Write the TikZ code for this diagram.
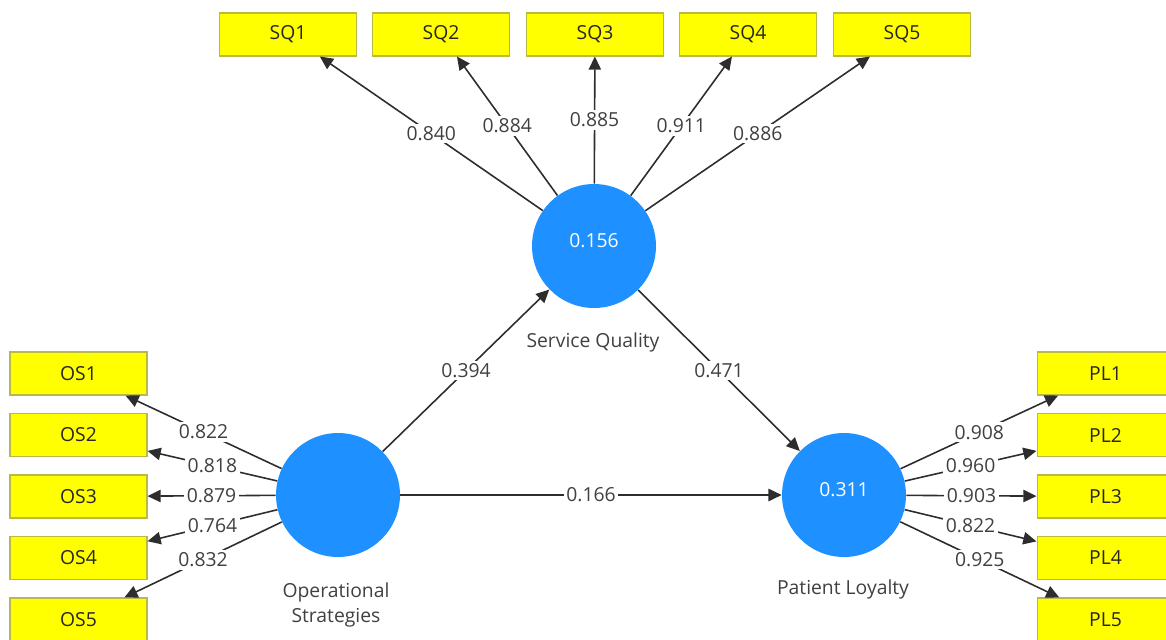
\documentclass[tikz,border=0pt]{standalone}
\usepackage{fontspec}
\setmainfont{Open Sans}
\usetikzlibrary{arrows.meta,positioning}
\definecolor{lvblue}{RGB}{30,144,255}
\definecolor{mvyellow}{RGB}{255,255,0}
\definecolor{mvedge}{RGB}{185,185,70}
\definecolor{pathgray}{RGB}{45,45,45}

\begin{document}
\begin{tikzpicture}[x=0.02cm,y=-0.02cm,font=\fontsize{11}{14.5}\selectfont,
  lv/.style={circle,fill=lvblue,minimum size=2.48cm,inner sep=0pt},
  mv/.style={rectangle,fill=mvyellow,draw=mvedge,line width=0.6pt,minimum width=2.74cm,minimum height=0.86cm,inner sep=0pt,text=black!85},
  arr/.style={draw=pathgray,line width=0.9pt,-{Triangle[length=7.5pt,width=7pt]}},
  val/.style={fill=white,inner sep=1.5pt,text=black!75},
  lvname/.style={text=black!75,align=center}]
  \useasboundingbox (0,0) rectangle (1166,639);
  % latent variables
  \node[lv,label={[text=white,yshift=3pt]center:0.156}] (SQ) at (594,246) {};
  \node[lv] (OS) at (338,495) {};
  \node[lv,label={[text=white,yshift=3pt]center:0.311}] (PL) at (844,495) {};
  \node[lvname] at (593,342) {Service Quality};
  \node[lvname] at (336,605) {Operational\\Strategies};
  \node[lvname] at (843,589) {Patient Loyalty};
  % inner model
  \draw[arr] (OS) -- node[val] {0.394} (SQ);
  \draw[arr] (SQ) -- node[val] {0.471} (PL);
  \draw[arr] (OS) -- node[val] {0.166} (PL);
  % indicators
  \foreach \i/\px/\v in {1/288/0.840,2/441/0.884,3/595/0.885,4/748/0.911,5/902/0.886}{
    \node[mv] (SQ\i) at (\px,34.5) {SQ\i};
    \draw[arr] (SQ) -- node[val] {\v} (SQ\i);
  }
  \foreach \i/\py/\v in {1/373.5/0.822,2/435/0.818,3/496.5/0.879,4/558/0.764,5/619.5/0.832}{
    \node[mv] (OS\i) at (78.5,\py) {OS\i};
    \draw[arr] (OS) -- node[val] {\v} (OS\i);
  }
  \foreach \i/\py/\v in {1/373.5/0.908,2/435/0.960,3/496.5/0.903,4/558/0.822,5/619.5/0.925}{
    \node[mv] (PL\i) at (1105.5,\py) {PL\i};
    \draw[arr] (PL) -- node[val] {\v} (PL\i);
  }
\end{tikzpicture}
\end{document}
